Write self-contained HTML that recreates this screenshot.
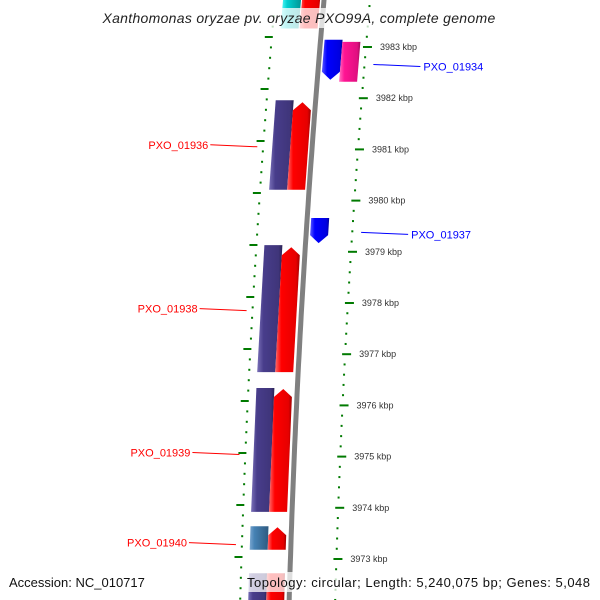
<!DOCTYPE html>
<html><head><meta charset="utf-8"><style>
body{margin:0;background:#fff}
svg{display:block;font-family:"Liberation Sans","DejaVu Sans",sans-serif}
</style></head><body>
<svg id="c" width="600" height="600" viewBox="0 0 600 600">
<defs>
<linearGradient id="gPurple" x1="0" x2="1"><stop offset="0" stop-color="#7a70b8"/><stop offset="0.25" stop-color="#483d8b"/><stop offset="0.85" stop-color="#3f357a"/><stop offset="1" stop-color="#2a2355"/></linearGradient>
<linearGradient id="gRed" x1="0" x2="1"><stop offset="0" stop-color="#ff6a6a"/><stop offset="0.25" stop-color="#ff0000"/><stop offset="0.85" stop-color="#e60000"/><stop offset="1" stop-color="#a00000"/></linearGradient>
<linearGradient id="gBlue" x1="0" x2="1"><stop offset="0" stop-color="#5a5aff"/><stop offset="0.25" stop-color="#0000ff"/><stop offset="0.85" stop-color="#0000e0"/><stop offset="1" stop-color="#00009a"/></linearGradient>
<linearGradient id="gMagenta" x1="0" x2="1"><stop offset="0" stop-color="#ff70c0"/><stop offset="0.25" stop-color="#ff1493"/><stop offset="0.85" stop-color="#e01080"/><stop offset="1" stop-color="#a00a5a"/></linearGradient>
<linearGradient id="gSteel" x1="0" x2="1"><stop offset="0" stop-color="#7aa6d0"/><stop offset="0.25" stop-color="#4682b4"/><stop offset="1" stop-color="#2e5a80"/></linearGradient>
<linearGradient id="gCyan" x1="0" x2="1"><stop offset="0" stop-color="#60ffff"/><stop offset="0.3" stop-color="#00d0d0"/><stop offset="1" stop-color="#009090"/></linearGradient>
<linearGradient id="gBack" x1="0" x2="1"><stop offset="0" stop-color="#c0c0c0"/><stop offset="0.5" stop-color="#808080"/><stop offset="1" stop-color="#505050"/></linearGradient>
</defs>
<g id="ticks"></g>
<g id="back"></g>
<g id="genes"></g>
<g id="labels"></g>
<rect x="90" y="8" width="418" height="20" fill="#fff" fill-opacity="0.75"/>
<text x="299" y="23" text-anchor="middle" font-size="14" font-style="italic" fill="#222" letter-spacing="0.3">Xanthomonas oryzae pv. oryzae PXO99A, complete genome</text>
<rect x="244" y="572" width="350" height="20" fill="#fff" fill-opacity="0.75"/>
<text x="9" y="587" font-size="13" fill="#111">Accession: NC_010717</text>
<text x="247" y="587" font-size="13" fill="#111" textLength="343">Topology: circular; Length: 5,240,075 bp; Genes: 5,048</text>
</svg>
<script>
// data
const geneNames = ["top-a","top-b","PXO_01934a","PXO_01934","PXO_01936a","PXO_01936","PXO_01937","PXO_01938a","PXO_01938","PXO_01939a","PXO_01939","PXO_01940a","PXO_01940","bottom-a","bottom-b"];
const geneStart = [3983.37,3983.37,3982.36,3982.32,3980.21,3980.21,3979.17,3976.65,3976.65,3973.92,3973.92,3973.18,3973.18,3972.1,3972.1];
const geneEnd   = [3984.2,3984.2,3983.14,3983.10,3981.96,3981.92,3979.66,3979.13,3979.09,3976.34,3976.32,3973.64,3973.62,3972.72,3972.72];
const geneStrand= [-1,1,-1,1,-1,1,-1,-1,1,-1,1,-1,1,-1,1];
const geneLane  = [-32,-13,13,31,-31,-13,13,-32,-14,-32,-14,-32,-14,-32,-14];
const geneFill  = ["gCyan","gRed","gBlue","gMagenta","gPurple","gRed","gBlue","gPurple","gRed","gPurple","gRed","gSteel","gRed","gPurple","gRed"];
const geneArrow = [0,0,1,0,0,1,1,0,1,0,1,0,1,0,0];
const labelNames = ["PXO_01934","PXO_01936","PXO_01937","PXO_01938","PXO_01939","PXO_01940"];
const labelKbp   = [3982.62,3981.09,3979.34,3977.89,3975.08,3973.32];
const labelSide  = [1,-1,1,-1,-1,-1];
const labelColor = ["#0000ff","#ff0000","#0000ff","#ff0000","#ff0000","#ff0000"];
const majorTicks = [3983,3982,3981,3980,3979,3978,3977,3976,3975,3974,3973];
const tickLabels = ["3983 kbp","3982 kbp","3981 kbp","3980 kbp","3979 kbp","3978 kbp","3977 kbp","3976 kbp","3975 kbp","3974 kbp","3973 kbp"];

const NS="http://www.w3.org/2000/svg";
function yOf(k){return 47+(3983-k)*51.2;}
function xb(y){return 324-0.088*y+0.00005*y*y;}
function mk(t,a,p){const e=document.createElementNS(NS,t);for(const k in a)e.setAttribute(k,a[k]);p.appendChild(e);return e;}

// backbone
const back=document.getElementById('back');
let pts=[];for(let y=-5;y<=605;y+=10)pts.push(xb(y).toFixed(1)+","+y);
const bb=mk('polyline',{points:pts.join(' '),fill:'none',stroke:'#808080','stroke-width':5},back);



// ticks
const tg=document.getElementById('ticks');
for(let k=3984;k>=3972;k-=0.2){
  const kk=Math.round(k*10)/10; const y=yOf(kk);
  if(y<-5||y>605)continue;
  const major=Math.abs(kk-Math.round(kk))<0.01;
  const x=xb(y)+46;
  const t=mk('line',{x1:x-(major?3:1),x2:x+(major?6:1),y1:y,y2:y,stroke:'#007a00','stroke-width':2},tg);
  
  
}
// left ring (slightly offset scale)
for(let i=-2;i<60;i++){
  const y=37+i*10.4; if(y<-5||y>605)continue;
  const major=i%5===0; const x=xb(y)-49;
  const t=mk('line',{x1:x-(major?7:1),x2:x+(major?1:1),y1:y,y2:y,stroke:'#007a00','stroke-width':2},tg);
  
  
}
majorTicks.forEach((k,i)=>{
  const y=yOf(k);
  const t=mk('text',{x:xb(y)+60,y:y+3,'font-size':9,fill:'#333'},tg);
  t.textContent=tickLabels[i];
  
  
});

// genes
const gg=document.getElementById('genes');
geneNames.forEach((n,i)=>{
  const yTop=yOf(geneEnd[i]), yBot=yOf(geneStart[i]);
  const w=9, d=geneLane[i], ah=geneArrow[i]?8:0;
  let p=[];
  if(geneStrand[i]>0){
    const yt=yTop+ah;
    p=[[xb(yBot)+d-w,yBot],[xb(yt)+d-w,yt],[xb(yTop)+d,yTop],[xb(yt)+d+w,yt],[xb(yBot)+d+w,yBot]];
  } else {
    const yb=yBot-ah;
    p=[[xb(yTop)+d-w,yTop],[xb(yTop)+d+w,yTop],[xb(yb)+d+w,yb],[xb(yBot)+d,yBot],[xb(yb)+d-w,yb]];
  }
  const faded=(yTop<30||yBot>570);
  const g=mk('polygon',{points:p.map(q=>q[0].toFixed(1)+","+q[1].toFixed(1)).join(' '),fill:'url(#'+geneFill[i]+')'},gg);
  
  
});

// labels
const lg=document.getElementById('labels');
labelNames.forEach((n,i)=>{
  const y=yOf(labelKbp[i]);
  if(labelSide[i]>0){
    const x0=xb(y)+55;
    mk('line',{x1:x0,y1:y-2,x2:x0+47,y2:y,stroke:labelColor[i],'stroke-width':1},lg);
    const t=mk('text',{x:x0+50,y:y+4,'font-size':11,fill:labelColor[i]},lg);
    t.textContent=n;
    
    
  } else {
    const x0=xb(y)-55;
    mk('line',{x1:x0,y1:y+2,x2:x0-47,y2:y,stroke:labelColor[i],'stroke-width':1},lg);
    const t=mk('text',{x:x0-49,y:y+4,'font-size':11,fill:labelColor[i],'text-anchor':'end'},lg);
    t.textContent=n;
    
    
  }
});
</script>
</body></html>
